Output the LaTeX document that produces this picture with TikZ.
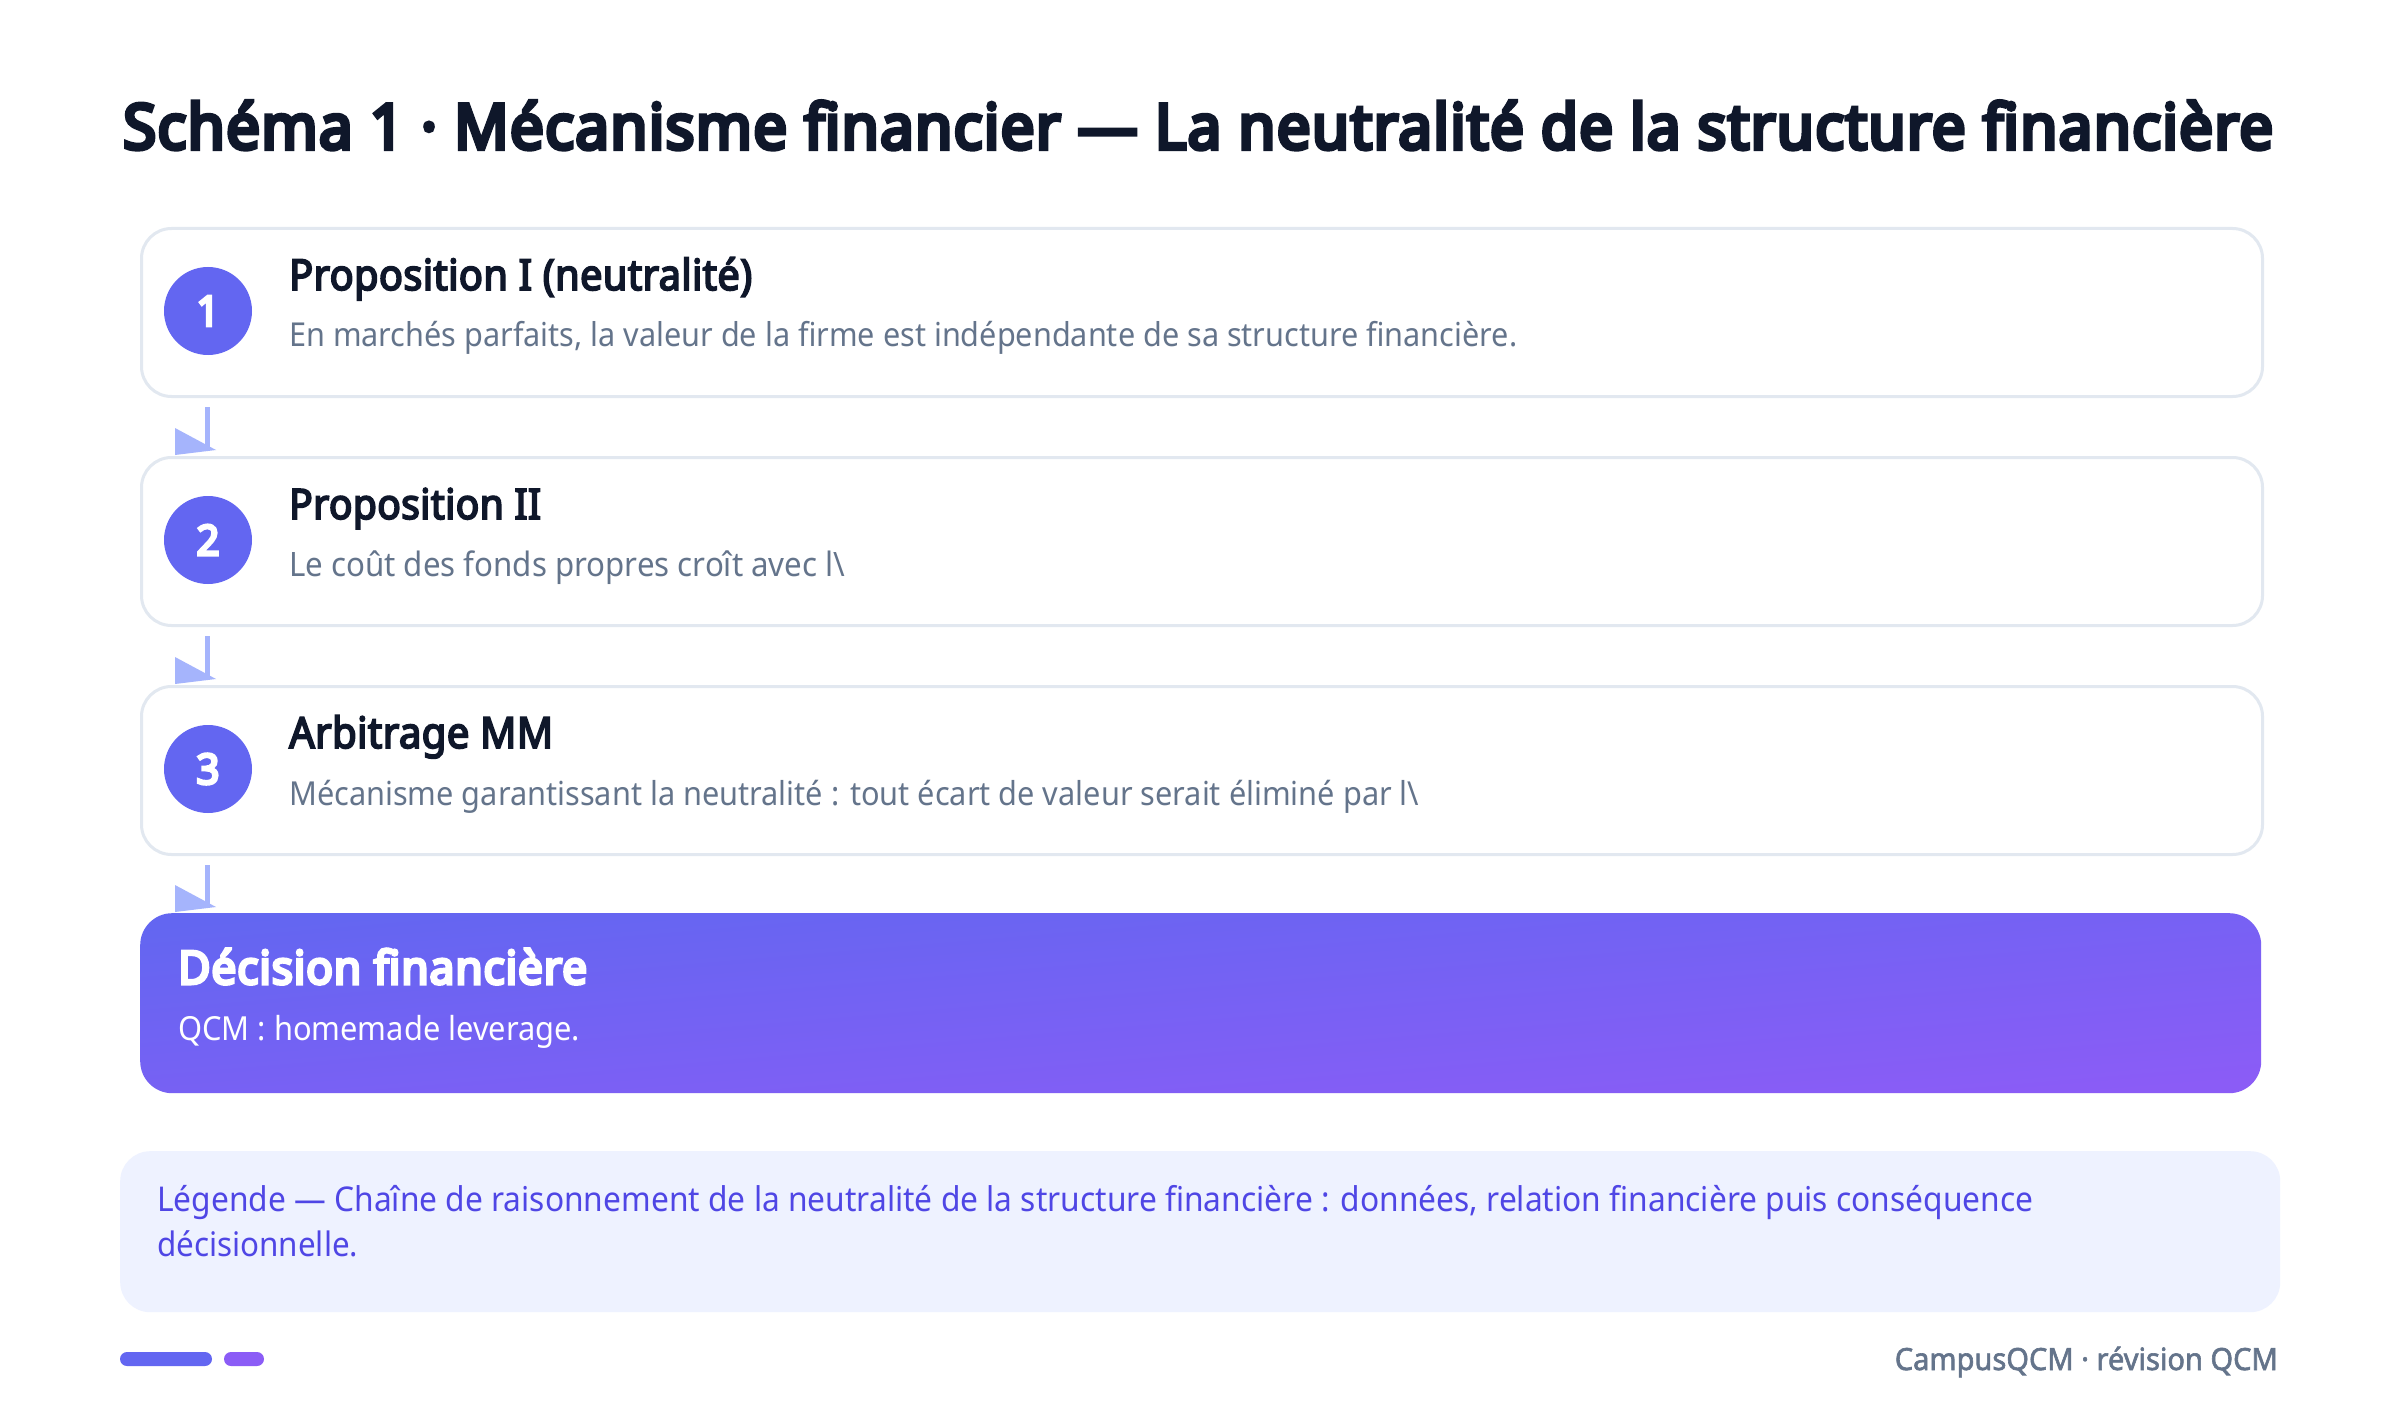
\documentclass[tikz,border=0pt]{standalone}
\usepackage{fontspec}
\setmainfont{Noto Sans}[AutoFakeBold=4, FakeStretch=0.93]
\newfontfamily\heavyfont{Noto Sans}[FakeBold=6.5, FakeStretch=0.96, LetterSpace=2]
\newfontfamily\boldfont{Noto Sans}[FakeBold=4.2, FakeStretch=0.93, LetterSpace=1]
\newfontfamily\semifont{Noto Sans}[FakeBold=2, FakeStretch=0.95]
\usepackage{graphicx}
\usetikzlibrary{calc}
\definecolor{ink}{HTML}{0F172A}
\definecolor{muted}{HTML}{64748B}
\definecolor{cardline}{HTML}{E2E8F0}
\definecolor{indA}{HTML}{6366F1}
\definecolor{vio}{HTML}{8B5CF6}
\definecolor{arrowc}{HTML}{A5B4FC}
\definecolor{legbg}{HTML}{EEF2FF}
\definecolor{legtext}{HTML}{4F46E5}
\newcommand\fitw[2]{\resizebox{#1}{!}{#2}}
\newcommand\ttlfont{\boldfont\fontsize{40}{48}\selectfont}
\newcommand\subfont{\fontsize{30}{36}\selectfont}
\begin{document}
\begin{tikzpicture}[x=1pt,y=-1pt,
  card/.style={draw=cardline, line width=3pt, fill=white, rounded corners=30pt,
    anchor=north west, minimum width=2121pt, minimum height=168pt, inner sep=0pt},
  badge/.style={circle, fill=indA, minimum size=88pt, inner sep=0pt, text=white,
    font=\heavyfont\fontsize{42}{42}\selectfont},
  txt/.style={anchor=base west, inner sep=0pt},
  ttl/.style={txt, text=ink},
  sub/.style={txt, text=muted},
  conn/.style={draw=arrowc, line width=5pt},
  tip/.style={fill=arrowc}]
\useasboundingbox (0,0) rectangle (2400,1420);
\fill[white] (0,0) rectangle (2400,1420);

% title
\node[txt, text=ink] (title) at (123,149)
  {\fitw{2150pt}{\heavyfont\fontsize{60}{72}\selectfont Schéma 1 · Mécanisme financier — La neutralité de la structure financière}};

% cards
\node[card] (b1) at (140,227) {};
\node[card] (b2) at (140,456) {};
\node[card] (b3) at (140,685) {};

\node[badge] (c1) at (208,311) {1};
\node[badge] (c2) at (208,540) {2};
\node[badge] (c3) at (208,769) {3};

\node[ttl] (t1) at (289,290) {\fitw{463pt}{\ttlfont Proposition I (neutralité)}};
\node[sub] (s1) at (289,347) {\fitw{1228pt}{\subfont En marchés parfaits, la valeur de la firme est indépendante de sa structure financière.}};
\node[ttl] (t2) at (289,519) {\fitw{252pt}{\ttlfont Proposition II}};
\node[sub] (s2) at (289,576) {\fitw{556pt}{\subfont Le coût des fonds propres croît avec l\textbackslash}};
\node[ttl] (t3) at (289,748) {\fitw{264pt}{\ttlfont Arbitrage MM}};
\node[sub] (s3) at (289,805) {\fitw{1130pt}{\subfont Mécanisme garantissant la neutralité : tout écart de valeur serait éliminé par l\textbackslash}};

% decision box
\node[anchor=north west, minimum width=2121pt, minimum height=180pt, inner sep=0pt,
  rounded corners=32pt, top color=indA, bottom color=vio, shading angle=4.8] (dec) at (140,913) {};
\node[txt, text=white] (dt) at (178,984) {\fitw{409pt}{\heavyfont\fontsize{40}{48}\selectfont Décision financière}};
\node[txt, text=white] (ds) at (178,1040) {\fitw{402pt}{\subfont QCM : homemade leverage.}};

% connectors
\foreach \a/\b in {b1/b2, b2/b3, b3/dec}{
  \draw[conn] ($(\a.south -| c1.center)+(-1,9)$) -- ($(\b.north -| c1.center)+(-1,-6)$);
  \fill[tip] ($(\b.north -| c1.center)+(-33,-28)$) -- ($(\b.north -| c1.center)+(-33,-1)$)
    -- ($(\b.north -| c1.center)+(8,-6)$) -- cycle;
}

% legend
\node[anchor=north west, minimum width=2160pt, minimum height=161pt, inner sep=0pt,
  fill=legbg, rounded corners=30pt] (leg) at (120,1151) {};
\node[txt, text=legtext] (l1) at (157,1211) {\fitw{1876pt}{\subfont Légende — Chaîne de raisonnement de la neutralité de la structure financière : données, relation financière puis conséquence}};
\node[txt, text=legtext] (l2) at (157,1256) {\fitw{201pt}{\subfont décisionnelle.}};

% footer
\fill[indA, rounded corners=7pt] (120,1352) rectangle (212,1366);
\fill[vio, rounded corners=7pt] (224,1352) rectangle (264,1366);
\node[anchor=base east, inner sep=0pt, text=muted] (foot) at (2278,1370)
  {\fitw{383pt}{\semifont\fontsize{28}{34}\selectfont CampusQCM · révision QCM}};
\end{tikzpicture}
\end{document}
